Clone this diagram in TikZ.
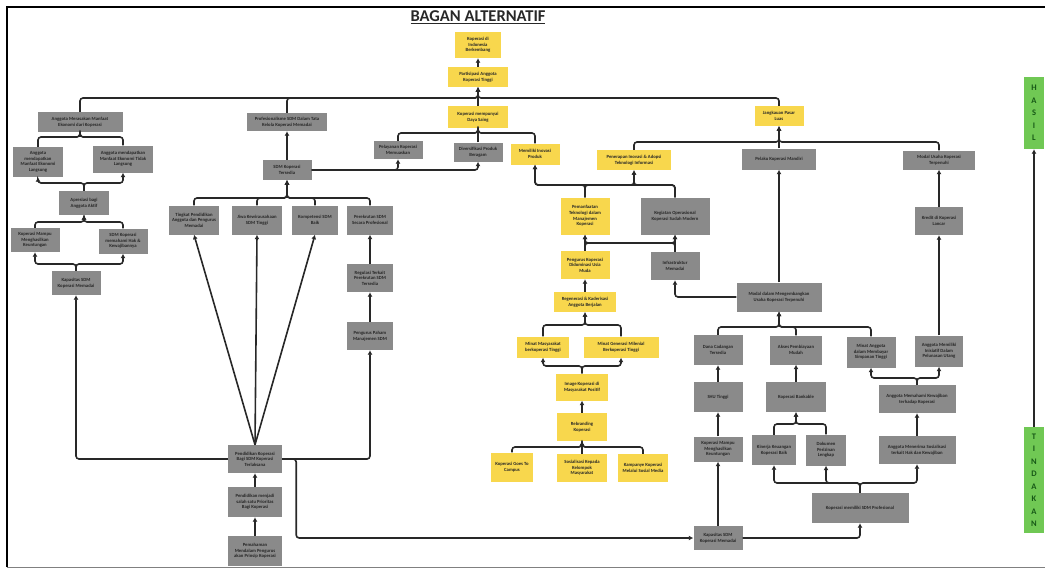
\documentclass[tikz,border=0pt]{standalone}
\usepackage{fontspec}
\setmainfont{Carlito}
\usepackage{tikz}
\usetikzlibrary{arrows.meta}
\definecolor{boxgray}{RGB}{138,138,138}
\definecolor{boxyellow}{RGB}{248,215,77}
\definecolor{boxgreen}{RGB}{112,200,84}
\definecolor{textgreen}{RGB}{22,88,22}
\definecolor{linecol}{RGB}{40,40,40}
\newcommand{\bxfont}{\fontsize{4.7}{5.6}\selectfont\bfseries}

\begin{document}
\begin{tikzpicture}[x=1pt,y=-1pt,
  box/.style={inner sep=1pt, align=center, font=\bxfont, text=black!85},
  gbox/.style={box, fill=boxgray},
  ybox/.style={box, fill=boxyellow},
  sz/.style 2 args={minimum width=#1, minimum height=#2},
  side/.style={fill=boxgreen, text=textgreen, align=center, inner sep=1pt, minimum width=20},
  link/.style={draw=linecol, line width=1.6pt, rounded corners=3pt},
  arr/.style={link, -{Latex[length=4.5pt,width=5pt]}}]
\useasboundingbox (0,0) rectangle (1045,570);
% frame and title
\draw[line width=2.4pt] (7,567) -- (7,7) -- (1045,7);
\draw[gray, line width=0.8pt] (7,567) -- (1045,567);
\node[font=\fontsize{16.5}{18}\selectfont\bfseries, text=linecol] (judul) at (478,17) {\underline{BAGAN ALTERNATIF}};
%     top column
\node[ybox, sz={46}{26}] (berkembang) at (478,45) {Koperasi di\\Indonesia\\Berkembang};
\node[ybox, sz={60}{20}] (partisipasi) at (478,77) {Partisipasi Anggota\\Koperasi Tinggi};
\node[ybox, sz={60}{22}] (dayasaing) at (478,117) {Koperasi mempunyai\\Daya Saing};
\node[gbox, sz={49}{18}] (pelayanan) at (398,150) {Pelayanan Koperasi\\Memuaskan};
\node[gbox, sz={49}{19}] (diversifikasi) at (478,152) {Diversifikasi Produk\\Beragam};
\node[ybox, sz={49}{21}] (inovasi) at (535,154) {Memiliki Inovasi\\Produk};
%     left branch
\node[gbox, sz={80}{18}] (profesional) at (287,122) {Profesionalisme SDM Dalam Tata\\Kelola  Koperasi Memadai};
\node[gbox, sz={85}{20}] (merasakan) at (80,122) {Anggota Merasakan Manfaat\\Ekonomi dari Koperasi};
\node[gbox, sz={50}{30}] (langsung) at (38,162) {Anggota\\mendapatkan\\Manfaat Ekonomi\\Langsung};
\node[gbox, sz={60}{27}] (tdklangsung) at (123,159) {Anggota mendapatkan\\Manfaat Ekonomi Tidak\\Langsung};
\node[gbox, sz={50}{24}] (apresiasi) at (84,203) {Apresiasi bagi\\Anggota Aktif};
\node[gbox, sz={49}{24}] (untungA) at (35,240) {Koperasi Mampu\\Menghasilkan\\Keuntungan};
\node[gbox, sz={49}{25}] (hakwajib) at (123,241) {SDM Koperasi\\memahami Hak \&\\Kewajibannya};
\node[gbox, sz={49}{24}] (kapasitasA) at (76,283) {Kapasitas SDM\\Koperasi Memadai};
%     SDM branch
\node[gbox, sz={49}{20}] (tersedia) at (287,170) {SDM Koperasi\\Tersedia};
\node[gbox, sz={50}{29}] (tingkat) at (194,220) {Tingkat Pendidikan\\Anggota dan Pengurus\\Memadai};
\node[gbox, sz={50}{29}] (jiwa) at (257,220) {Jiwa Kewirausahaan\\SDM Tinggi};
\node[gbox, sz={46}{29}] (kompetensi) at (315,220) {Kompetensi SDM\\Baik};
\node[gbox, sz={46}{29}] (rekrut) at (370,220) {Perekrutan SDM\\Secara Profesional};
\node[gbox, sz={46}{28}] (regulasi) at (370,278) {Regulasi Terkait\\Perekrutan SDM\\Tersedia};
\node[gbox, sz={46}{28}] (pahamsdm) at (370,336) {Pengurus Paham\\Manajemen SDM};
\node[gbox, sz={54}{28}] (pendidikan) at (255,459) {Pendidikan Koperasi\\Bagi SDM Koperasi\\Terlaksana};
\node[gbox, sz={54}{30}] (prioritas) at (255,502) {Pendidikan menjadi\\salah satu Prioritas\\Bagi  Koperasi};
\node[gbox, sz={54}{30}] (pemahaman) at (255,551) {Pemahaman\\Mendalam Pengurus\\akan Prinsip Koperasi};
%     middle column
\node[ybox, sz={74}{20}] (penerapan) at (634,160) {Penerapan Inovasi \& Adopsi\\Teknologi Informasi};
\node[ybox, sz={49}{37}] (manfaattek) at (585,216) {Pemanfaatan\\Teknologi dalam\\Manajemen\\Koperasi};
\node[gbox, sz={69}{37}] (operasional) at (675,216) {Kegiatan Operasional\\Koperasi Sudah Modern};
\node[gbox, sz={49}{28}] (infrastruktur) at (675,266) {Infrastruktur\\Memadai};
\node[ybox, sz={49}{28}] (usiamuda) at (585,265) {Pengurus Koperasi\\Didominasi Usia\\Muda};
\node[ybox, sz={62}{20}] (regenerasi) at (585,302) {Regenerasi \& Kaderisasi\\Anggota Berjalan};
\node[ybox, sz={52}{21}] (minatmasy) at (543,347) {Minat Masyarakat\\berkoperasi Tinggi};
\node[ybox, sz={75}{21}] (minatmil) at (621,347) {Minat Generasi Milenial\\Berkoperasi Tinggi};
\node[ybox, sz={52}{27}] (image) at (582,387) {Image Koperasi di\\Masyarakat Positif};
\node[ybox, sz={50}{28}] (rebranding) at (582,427) {Rebranding\\Koperasi};
\node[ybox, sz={42}{29}] (campus) at (512,467) {Koperasi Goes To\\Campus};
\node[ybox, sz={50}{28}] (sosialisasi) at (582,468) {Sosialisasi Kepada\\Kelompok\\Masyarakat};
\node[ybox, sz={50}{28}] (kampanye) at (643,468) {Kampanye Koperasi\\Melalui Sosial Media};
%     right branch
\node[ybox, sz={49}{20}] (jangkauan) at (779,116) {Jangkauan Pasar\\Luas};
\node[gbox, sz={74}{21}] (pelaku) at (779,159) {Pelaku Koperasi Mandiri};
\node[gbox, sz={72}{19}] (modalusaha) at (939,160) {Modal Usaha Koperasi\\Terpenuhi};
\node[gbox, sz={48}{28}] (kredit) at (939,221) {Kredit di Koperasi\\Lancar};
\node[gbox, sz={85}{29}] (modaldalam) at (779,297) {Modal dalam Mengembangkan\\Usaha Koperasi Terpenuhi};
\node[gbox, sz={49}{30}] (dana) at (718,350) {Dana Cadangan\\Tersedia};
\node[gbox, sz={52}{29}] (akses) at (796,350) {Akses Pembiayaan\\Mudah};
\node[gbox, sz={49}{31}] (minatagt) at (871,352) {Minat Anggota\\dalam Membayar\\Simpanan Tinggi};
\node[gbox, sz={48}{31}] (inisiatif) at (939,351) {Anggota Memiliki\\Inisiatif Dalam\\Pelunasan Utang};
\node[gbox, sz={49}{30}] (shu) at (718,397) {SHU Tinggi};
\node[gbox, sz={60}{30}] (bankable) at (796,397) {Koperasi Bankable};
\node[gbox, sz={77}{28}] (pahamwajib) at (917,399) {Anggota Memahami Kewajiban\\terhadap Koperasi};
\node[gbox, sz={49}{25}] (untungB) at (718,449) {Koperasi Mampu\\Menghasilkan\\Keuntungan};
\node[gbox, sz={44}{30}] (kinerja) at (774,450) {Kinerja Keuangan\\Koperasi Baik};
\node[gbox, sz={40}{31}] (dokumen) at (826,450) {Dokumen\\Perizinan\\Lengkap};
\node[gbox, sz={77}{28}] (sosialhak) at (917,450) {Anggota Menerima Sosialisasi\\terkait Hak dan Kewajiban};
\node[gbox, sz={97}{30}] (sdmprof) at (860,508) {Koperasi memiliki SDM Profesional};
\node[gbox, sz={49}{24}] (kapasitasB) at (718,538) {Kapasitas SDM\\Koperasi Memadai};
%     side labels
\node[side, minimum height=72, font=\fontsize{8.5}{12.5}\selectfont\bfseries] (hasil) at (1034,113) {H\\A\\S\\I\\L};
\node[side, minimum height=106, font=\fontsize{8.5}{12.5}\selectfont\bfseries] (tindakan) at (1034,480) {T\\I\\N\\D\\A\\K\\A\\N};
\draw[arr] (tindakan.north) -- (hasil.south);
% The connectors
%     top bus
\draw[arr] (dayasaing.north) -- (partisipasi.south);
\draw[arr] (merasakan.north) |- (partisipasi.south |- 0,98) -- (partisipasi.south);
\draw[arr] (profesional.north) |- (partisipasi.south |- 0,98) -- (partisipasi.south);
\draw[arr] (jangkauan.north) |- (partisipasi.south |- 0,98) -- (partisipasi.south);
\draw[arr] (partisipasi.north) -- (berkembang.south);
\draw[arr] (pelayanan.north) |- (dayasaing.south |- 0,133) -- (dayasaing.south);
\draw[arr] (diversifikasi.north) -- (dayasaing.south);
\draw[arr] (inovasi.north) |- (dayasaing.south |- 0,133) -- (dayasaing.south);
%     left tree
\draw[arr] (kapasitasA.north) -- (kapasitasA.north |- 0,264) -| (untungA.south);
\draw[arr] (kapasitasA.north) -- (kapasitasA.north |- 0,264) -| (hakwajib.south);
\draw[arr] (untungA.north) |- (apresiasi.south |- 0,222) -- (apresiasi.south);
\draw[arr] (hakwajib.north) |- (apresiasi.south |- 0,222) -- (apresiasi.south);
\draw[arr] (apresiasi.north) -- (apresiasi.north |- 0,183) -| (langsung.south);
\draw[arr] (apresiasi.north) -- (apresiasi.north |- 0,183) -| (tdklangsung.south);
\draw[arr] (langsung.north) |- (merasakan.south |- 0,137) -- (merasakan.south);
\draw[arr] (tdklangsung.north) |- (merasakan.south |- 0,137) -- (merasakan.south);
%     SDM tree
\draw[arr] (tersedia.north) -- (profesional.south);
\draw[arr] (tersedia.east) -| (pelayanan.south);
\draw[arr] (tersedia.east) -| (diversifikasi.south);
\draw[arr] (tingkat.north) |- (tersedia.south |- 0,198) -- (tersedia.south);
\draw[arr] (jiwa.north) |- (tersedia.south |- 0,198) -- (tersedia.south);
\draw[arr] (kompetensi.north) |- (tersedia.south |- 0,198) -- (tersedia.south);
\draw[arr] (rekrut.north) |- (tersedia.south |- 0,198) -- (tersedia.south);
\draw[arr] (pahamsdm.north) -- (regulasi.south);
\draw[arr] (regulasi.north) -- (rekrut.south);
\draw[arr] (pemahaman.north) -- (prioritas.south);
\draw[arr] (prioritas.north) -- (pendidikan.south);
\draw[arr] (pendidikan.north) -- (tingkat.south);
\draw[arr] (pendidikan.north) -- (jiwa.south);
\draw[arr] (pendidikan.north) -- (kompetensi.south);
\draw[arr] (pendidikan.west) -| (kapasitasA.south);
\draw[arr] (pendidikan.east) -| (pahamsdm.south);
\draw[arr] (pendidikan.east) -- ++(14,0) |- (kapasitasB.west);
%     middle column
\draw[arr] (usiamuda.north) -- (manfaattek.south);
\draw[arr] (usiamuda.north) |- (operasional.south |- 0,243) -- (operasional.south);
\draw[arr] (infrastruktur.north) -- (operasional.south);
\draw[arr] (infrastruktur.north) |- (manfaattek.south |- 0,243) -- (manfaattek.south);
\draw[arr] (manfaattek.north) |- (inovasi.south |- 0,185) -- (inovasi.south);
\draw[arr] (manfaattek.north) |- (penerapan.south |- 0,185) -- (penerapan.south);
\draw[arr] (operasional.north) |- (inovasi.south |- 0,185) -- (inovasi.south);
\draw[arr] (operasional.north) |- (penerapan.south |- 0,185) -- (penerapan.south);
\draw[arr] (penerapan.north) |- (jangkauan.south |- 0,142) -- (jangkauan.south);
\draw[arr] (regenerasi.north) -- (usiamuda.south);
\draw[arr] (minatmasy.north) |- (regenerasi.south |- 0,325) -- (regenerasi.south);
\draw[arr] (minatmil.north) |- (regenerasi.south |- 0,325) -- (regenerasi.south);
\draw[arr] (image.north) -- (image.north |- 0,366) -| (minatmasy.south);
\draw[arr] (image.north) -- (image.north |- 0,366) -| (minatmil.south);
\draw[arr] (rebranding.north) -- (image.south);
\draw[arr] (campus.north) |- (rebranding.south |- 0,447) -- (rebranding.south);
\draw[arr] (sosialisasi.north) -- (rebranding.south);
\draw[arr] (kampanye.north) |- (rebranding.south |- 0,447) -- (rebranding.south);
%     right tree
\draw[arr] (pelaku.north) -- (jangkauan.south);
\draw[arr] (modalusaha.north) |- (jangkauan.south |- 0,142) -- (jangkauan.south);
\draw[arr] (kredit.north) -- (modalusaha.south);
\draw[arr] (inisiatif.north) -- (kredit.south);
\draw[arr] (modaldalam.north) -- (pelaku.south);
\draw[arr] (modaldalam.west) -| (infrastruktur.south);
\draw[arr] (dana.north) |- (modaldalam.south |- 0,327) -- (modaldalam.south);
\draw[arr] (akses.north) |- (modaldalam.south |- 0,327) -- (modaldalam.south);
\draw[arr] (minatagt.north) |- (modaldalam.south |- 0,327) -- (modaldalam.south);
\draw[arr] (bankable.north) -- (akses.south);
\draw[arr] (kinerja.north) |- (bankable.south |- 0,424) -- (bankable.south);
\draw[arr] (dokumen.north) |- (bankable.south |- 0,424) -- (bankable.south);
\draw[arr] (sdmprof.north) -- (sdmprof.north |- 0,483) -| (kinerja.south);
\draw[arr] (sdmprof.north) -- (sdmprof.north |- 0,483) -| (dokumen.south);
\draw[arr] (sdmprof.north) -- (sdmprof.north |- 0,483) -| (sosialhak.south);
\draw[arr] (sosialhak.north) -- (pahamwajib.south);
\draw[arr] (pahamwajib.north) -- (pahamwajib.north |- 0,378) -| (minatagt.south);
\draw[arr] (pahamwajib.north) -- (pahamwajib.north |- 0,378) -| (inisiatif.south);
\draw[arr] (kapasitasB.north) -- (untungB.south);
\draw[arr] (untungB.north) -- (shu.south);
\draw[arr] (shu.north) -- (dana.south);
\draw[arr] (kapasitasB.east) -| (sdmprof.south);
\end{tikzpicture}
\end{document}
